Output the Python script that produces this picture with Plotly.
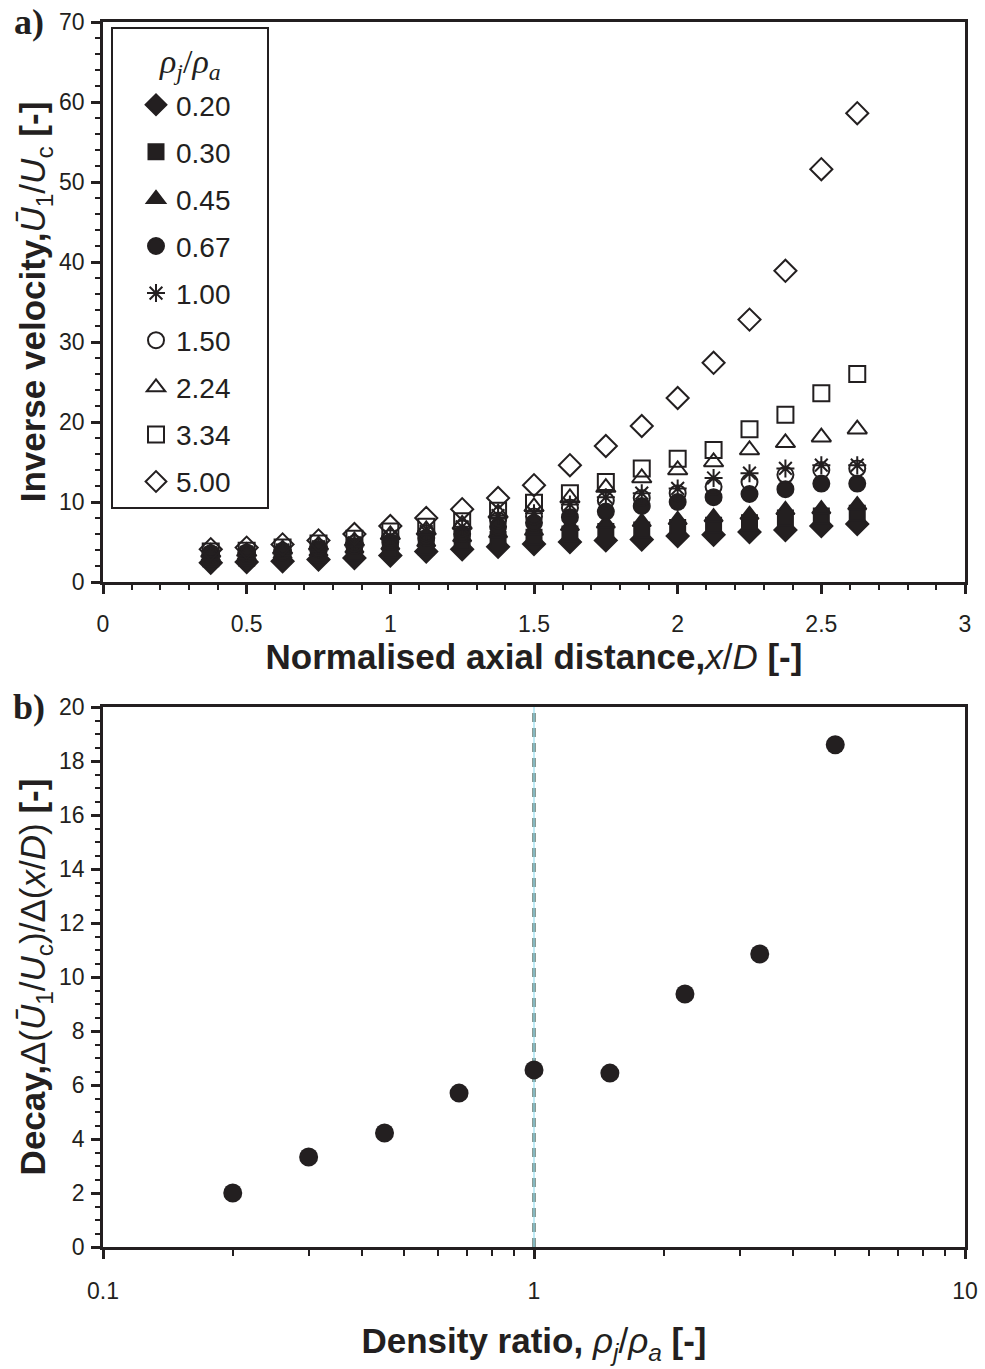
import plotly.graph_objects as go

# ---------------- data ----------------
x_d = [0.375, 0.5, 0.625, 0.75, 0.875, 1.0, 1.125, 1.25, 1.375, 1.5,
       1.625, 1.75, 1.875, 2.0, 2.125, 2.25, 2.375, 2.5, 2.625]

ratio_labels = ["0.20", "0.30", "0.45", "0.67", "1.00", "1.50", "2.24", "3.34", "5.00"]

inv_020 = [2.4, 2.5, 2.6, 2.8, 3.0, 3.3, 3.8, 4.1, 4.4, 4.75, 5.0, 5.2, 5.3, 5.75, 5.9, 6.25, 6.5, 7.0, 7.25]
inv_030 = [2.9, 3.0, 3.2, 3.4, 3.6, 4.0, 4.4, 5.0, 5.3, 5.6, 6.0, 6.3, 6.5, 6.8, 7.1, 7.4, 8.0, 8.25, 8.6]
inv_045 = [3.2, 3.3, 3.5, 3.8, 4.2, 4.6, 5.0, 5.6, 6.1, 6.4, 7.0, 7.3, 7.5, 7.75, 8.1, 8.4, 9.0, 9.1, 9.6]
inv_067 = [3.4, 3.5, 3.7, 4.1, 4.5, 5.0, 5.5, 6.0, 6.9, 7.4, 8.1, 8.8, 9.5, 10.0, 10.6, 11.0, 11.6, 12.3, 12.3]
inv_100 = [3.6, 3.7, 4.0, 4.4, 4.9, 5.7, 6.3, 6.9, 8.3, 8.6, 9.7, 10.6, 11.1, 11.7, 13.0, 13.6, 14.2, 14.6, 14.6]
inv_150 = [3.6, 3.7, 3.9, 4.3, 4.8, 5.5, 6.1, 6.7, 7.7, 8.2, 9.3, 10.2, 10.5, 11.1, 11.9, 12.5, 13.4, 14.0, 14.2]
inv_224 = [3.7, 3.8, 4.1, 4.6, 5.1, 5.9, 6.5, 7.2, 8.6, 9.4, 10.5, 11.8, 13.0, 14.0, 15.0, 16.5, 17.4, 18.1, 19.1]
inv_334 = [3.8, 3.9, 4.3, 4.8, 5.4, 6.3, 6.9, 7.6, 8.9, 9.9, 11.1, 12.5, 14.2, 15.4, 16.5, 19.1, 20.9, 23.6, 26.0]
inv_500 = [4.1, 4.3, 4.7, 5.2, 6.0, 7.0, 8.0, 9.1, 10.5, 12.1, 14.6, 17.0, 19.5, 23.0, 27.4, 32.8, 38.9, 51.6, 58.6]

density_ratio = [0.20, 0.30, 0.45, 0.67, 1.00, 1.50, 2.24, 3.34, 5.00]
decay = [2.0, 3.33, 4.22, 5.70, 6.56, 6.44, 9.37, 10.85, 18.6]

# ---------------- style ----------------
INK = "#231f20"
symbols = ["diamond", "square", "triangle-up", "circle", "asterisk-open",
           "circle-open", "triangle-up-open", "square-open", "diamond-open"]
sizes = [17, 15, 16, 16, 15, 16, 17, 16, 17]
series = [inv_020, inv_030, inv_045, inv_067, inv_100, inv_150, inv_224, inv_334, inv_500]
TICKFONT = dict(family="Liberation Sans Narrow, Liberation Sans, Arial", size=23, color=INK)
TITLEFONT = dict(family="Liberation Sans Narrow, Liberation Sans, Arial", size=35, color=INK)

fig = go.Figure()
for lab, sym, sz, ys in zip(ratio_labels, symbols, sizes, series):
    fig.add_trace(go.Scatter(
        x=x_d, y=ys, mode="markers", name=lab, legendgroup=lab,
        marker=dict(symbol=sym, size=sz, color=INK, line=dict(color=INK, width=2)),
        xaxis="x", yaxis="y"))

fig.add_trace(go.Scatter(x=[1, 1], y=[0, 20], mode="lines", showlegend=False,
                         line=dict(color="#8c9a94", width=4, dash="9px,6px"),
                         xaxis="x2", yaxis="y2"))
fig.add_trace(go.Scatter(x=[1, 1], y=[0, 20], mode="lines", showlegend=False,
                         line=dict(color="#7fd6ec", width=1),
                         xaxis="x2", yaxis="y2"))
fig.add_trace(go.Scatter(x=density_ratio, y=decay, mode="markers", showlegend=False,
                         marker=dict(symbol="circle", size=19, color=INK),
                         xaxis="x2", yaxis="y2"))

H_PLOT = 1369 - 22 - 122
W_PLOT = 985 - 103 - 20
top_bottom = (1247 - 582) / H_PLOT
bot_top = (1247 - 707) / H_PLOT


def px_x(p):
    return (p - 103) / W_PLOT


def px_y(p):
    return (1247 - p) / H_PLOT


axis_common = dict(showline=True, linecolor=INK, linewidth=2.5, mirror=True,
                   ticks="outside", tickcolor=INK, tickwidth=2.5, ticklen=9,
                   showgrid=False, zeroline=False, tickfont=TICKFONT)

fig.update_layout(
    width=985, height=1369,
    margin=dict(l=103, r=20, t=22, b=122, autoexpand=False),
    paper_bgcolor="white", plot_bgcolor="white",
    xaxis=dict(domain=[0, 1], anchor="y", range=[0, 3], dtick=0.5,
               minor=dict(dtick=0.1, ticks="outside", ticklen=5, tickcolor=INK, tickwidth=1.5),
               ticklabelstandoff=11,
               title=dict(text="<b>Normalised axial distance,</b><i>x</i>/<i>D</i> <b>[-]</b>",
                          font=TITLEFONT, standoff=4),
               **axis_common),
    yaxis=dict(domain=[top_bottom, 1], anchor="x", range=[0, 70], dtick=10,
               minor=dict(dtick=2, ticks="outside", ticklen=5, tickcolor=INK, tickwidth=1.5),
               ticklabelstandoff=2,
               title=dict(text="<b>Inverse velocity,</b><i>Ū</i><sub>1</sub>/<i>U</i><sub>c</sub> <b>[-]</b>",
                          font=TITLEFONT, standoff=3),
               **axis_common),
    xaxis2=dict(domain=[0, 1], anchor="y2", type="log", range=[-1, 1], dtick=1,
                minor=dict(ticks="outside", ticklen=6, tickcolor=INK, tickwidth=1.5),
                ticklabelstandoff=13,
                title=dict(text="<b>Density ratio, </b><i>ρ</i><sub><i>j</i></sub>/<i>ρ</i><sub><i>a</i></sub> <b>[-]</b>",
                           font=TITLEFONT, standoff=26),
                **axis_common),
    yaxis2=dict(domain=[0, bot_top], anchor="x2", range=[0, 20], dtick=2,
                minor=dict(dtick=0.5, ticks="outside", ticklen=5, tickcolor=INK, tickwidth=1.5),
                ticklabelstandoff=2,
                title=dict(text="<b>Decay,</b>Δ(<i>Ū</i><sub>1</sub>/<i>U</i><sub>c</sub>)/Δ(<i>x</i>/<i>D</i>) <b>[-]</b>",
                           font=TITLEFONT, standoff=3),
                **axis_common),
    legend=dict(x=px_x(136), y=px_y(80), xanchor="left", yanchor="top",
                bgcolor="rgba(0,0,0,0)", borderwidth=0,
                font=dict(family="Liberation Sans, Arial", size=28, color=INK),
                tracegroupgap=7.7, itemwidth=30),
    showlegend=True,
    shapes=[dict(type="rect", xref="paper", yref="paper",
                 x0=px_x(112), x1=px_x(268), y0=px_y(508), y1=px_y(28),
                 line=dict(color=INK, width=2), fillcolor="white", layer="above")],
)

anns = []
for txt, px, py in [("<b>a)</b>", 29, 22), ("<b>b)</b>", 29, 707)]:
    anns.append(dict(text=txt, x=px_x(px), y=px_y(py),
                     xref="paper", yref="paper", showarrow=False,
                     xanchor="center", yanchor="middle",
                     font=dict(family="Liberation Serif, Times New Roman, serif", size=36, color=INK)))
anns.append(dict(text="<i>ρ</i><sub><i>j</i></sub>/<i>ρ</i><sub><i>a</i></sub>",
                 x=px_x(190), y=px_y(64), xref="paper", yref="paper", showarrow=False,
                 xanchor="center", yanchor="middle",
                 font=dict(family="Liberation Serif, Times New Roman, serif", size=34, color=INK)))
fig.update_layout(annotations=anns)

fig.write_html("out.html")
